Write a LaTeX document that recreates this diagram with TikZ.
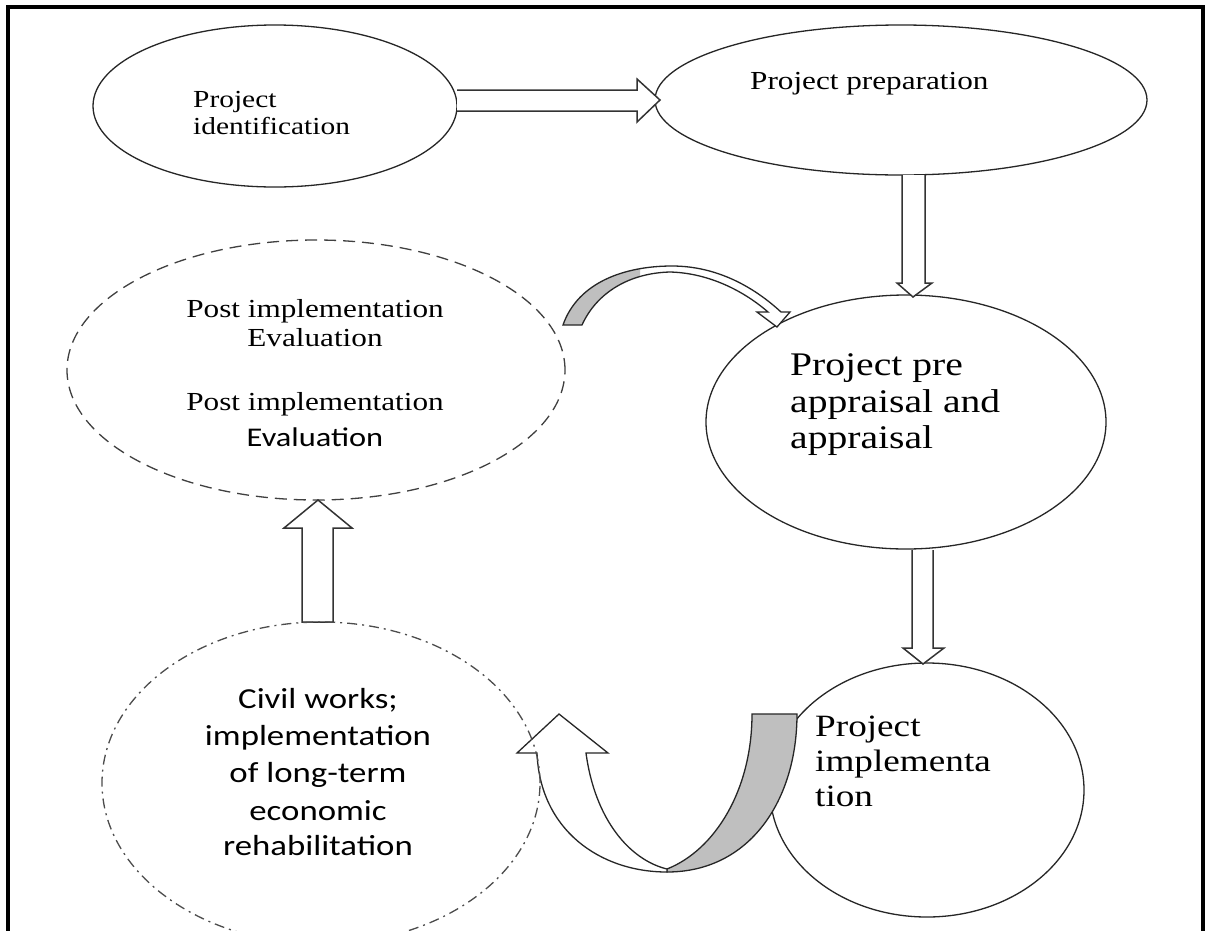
\documentclass[tikz,border=0pt]{standalone}
\usepackage{fontspec}
\setmainfont{Liberation Serif}[FakeStretch=1.2]
\newfontfamily\calib{Carlito}[FakeStretch=1.2]
\usetikzlibrary{shapes.geometric}
\tikzset{
  ell/.style={draw=black!85, line width=1.3pt, ellipse, inner sep=0pt, fill=none},
  dashell/.style={ell, draw=black!75, dash pattern=on 12pt off 7pt},
  dotell/.style={ell, draw=black!70, dash pattern=on 10pt off 5pt on 2pt off 5pt},
  blockarrow/.style={draw=black!80, line width=1.5pt, fill=white, line join=miter},
  lt/.style={inner sep=0pt, anchor=base west},
  ct/.style={inner sep=0pt, anchor=base},
  sa/.style={font=\fontsize{24.5}{29}\selectfont},
  sg/.style={font=\fontsize{26}{30}\selectfont},
  sb/.style={font=\fontsize{33}{37}\selectfont},
  sc/.style={font=\fontsize{31}{35}\selectfont},
  sd/.style={font=\fontsize{26}{30}\selectfont},
  se/.style={font=\calib\fontsize{27}{31}\selectfont},
  sf/.style={font=\calib\fontsize{29}{33}\selectfont},
}
\begin{document}
\begin{tikzpicture}[x=1pt,y=-1pt]
\useasboundingbox (0,0) rectangle (1205,930);
\fill[white] (0,0) rectangle (1205,930);

% ellipses
\node[ell, minimum width=364pt, minimum height=162pt] (e1) at (275,106) {};
\node[ell, minimum width=492pt, minimum height=150pt] (e2) at (901,100) {};
\node[ell, minimum width=400pt, minimum height=254pt] (e3) at (906,422) {};
\node[ell, minimum width=314pt, minimum height=254pt] (e4) at (927,790) {};
\node[dashell, minimum width=498pt, minimum height=260pt] (e5) at (316,370) {};

% straight block arrows
\coordinate (a1t) at (660,100);
\draw[blockarrow] (457,90) -- (637,90) -- (637,79) -- (a1t) -- (637,122) -- (637,111) -- (457,111);
\draw[blockarrow] (902,175) -- (902,283) -- (897,283) -- (913,297) -- (932,283) -- (925,283) -- (925,175);
\draw[blockarrow] (912,550) -- (912,648) -- (903,648) -- (923,664) -- (944,648) -- (933,648) -- (933,550);
\draw[blockarrow] (302,622) -- (302,528) -- (284,528) -- (318,500) -- (352,528) -- (333,528) -- (333,622) -- cycle;

% curved arrow top (post evaluation -> appraisal)
\def\bandtop{(563,325) .. controls (578,282) and (625,266) .. (672,266) .. controls (718,266) and (755,288) .. (781,312) -- (790,312) -- (777,327) -- (757,312) -- (768,312) .. controls (745,292) and (710,273) .. (670,272) .. controls (630,273) and (597,292) .. (582,325) -- cycle}
\fill[white] \bandtop;
\begin{scope}
  \clip (540,240) rectangle (640,340);
  \fill[black!25] \bandtop;
\end{scope}
\draw[draw=black!85, line width=1.3pt, line join=miter] \bandtop;

% U arrow (implementation -> civil works)
\draw[draw=black!85, line width=1.3pt, fill=black!25, line join=miter]
  (667,872) .. controls (750,872) and (797,800) .. (797,714) -- (752,714)
  .. controls (752,790) and (715,850) .. (667,869) -- cycle;
\draw[draw=black!85, line width=1.3pt, fill=white, line join=miter]
  (667,872) .. controls (600,872) and (540,830) .. (537,753) -- (517,753) -- (559,714)
  -- (608,753) -- (586,753) .. controls (595,820) and (630,860) .. (667,869) -- cycle;

\node[dotell, minimum width=438pt, minimum height=322pt] (e6) at (321,783) {};

% frame
\draw[line width=4.5pt] (8,935) -- (8,7) -- (1203,7) -- (1203,935);

% texts
\node[lt, sa] (t1a) at (193,107) {Project};
\node[lt, sa] (t1b) at (193,134) {identification};
\node[lt, sg] (t2) at (750,89) {Project preparation};
\node[lt, sb] (t3a) at (790,375) {Project pre};
\node[lt, sb] (t3b) at (790,412) {appraisal and};
\node[lt, sb] (t3c) at (790,448) {appraisal};
\node[lt, sc] (t4a) at (815,736) {Project};
\node[lt, sc] (t4b) at (815,771) {implementa};
\node[lt, sc] (t4c) at (815,806) {tion};
\node[ct, sd] (t5a) at (315,317) {Post implementation};
\node[ct, sd] (t5b) at (315,346) {Evaluation};
\node[ct, sd] (t5c) at (315,410) {Post implementation};
\node[ct, se] (t5d) at (315,446) {Evaluation};
\node[ct, sf] (t6a) at (318,708) {Civil works;};
\node[ct, sf] (t6b) at (318,745) {implementation};
\node[ct, sf] (t6c) at (318,782) {of long-term};
\node[ct, sf] (t6d) at (318,820) {economic};
\node[ct, sf] (t6e) at (318,855) {rehabilitation};
\end{tikzpicture}
\end{document}
